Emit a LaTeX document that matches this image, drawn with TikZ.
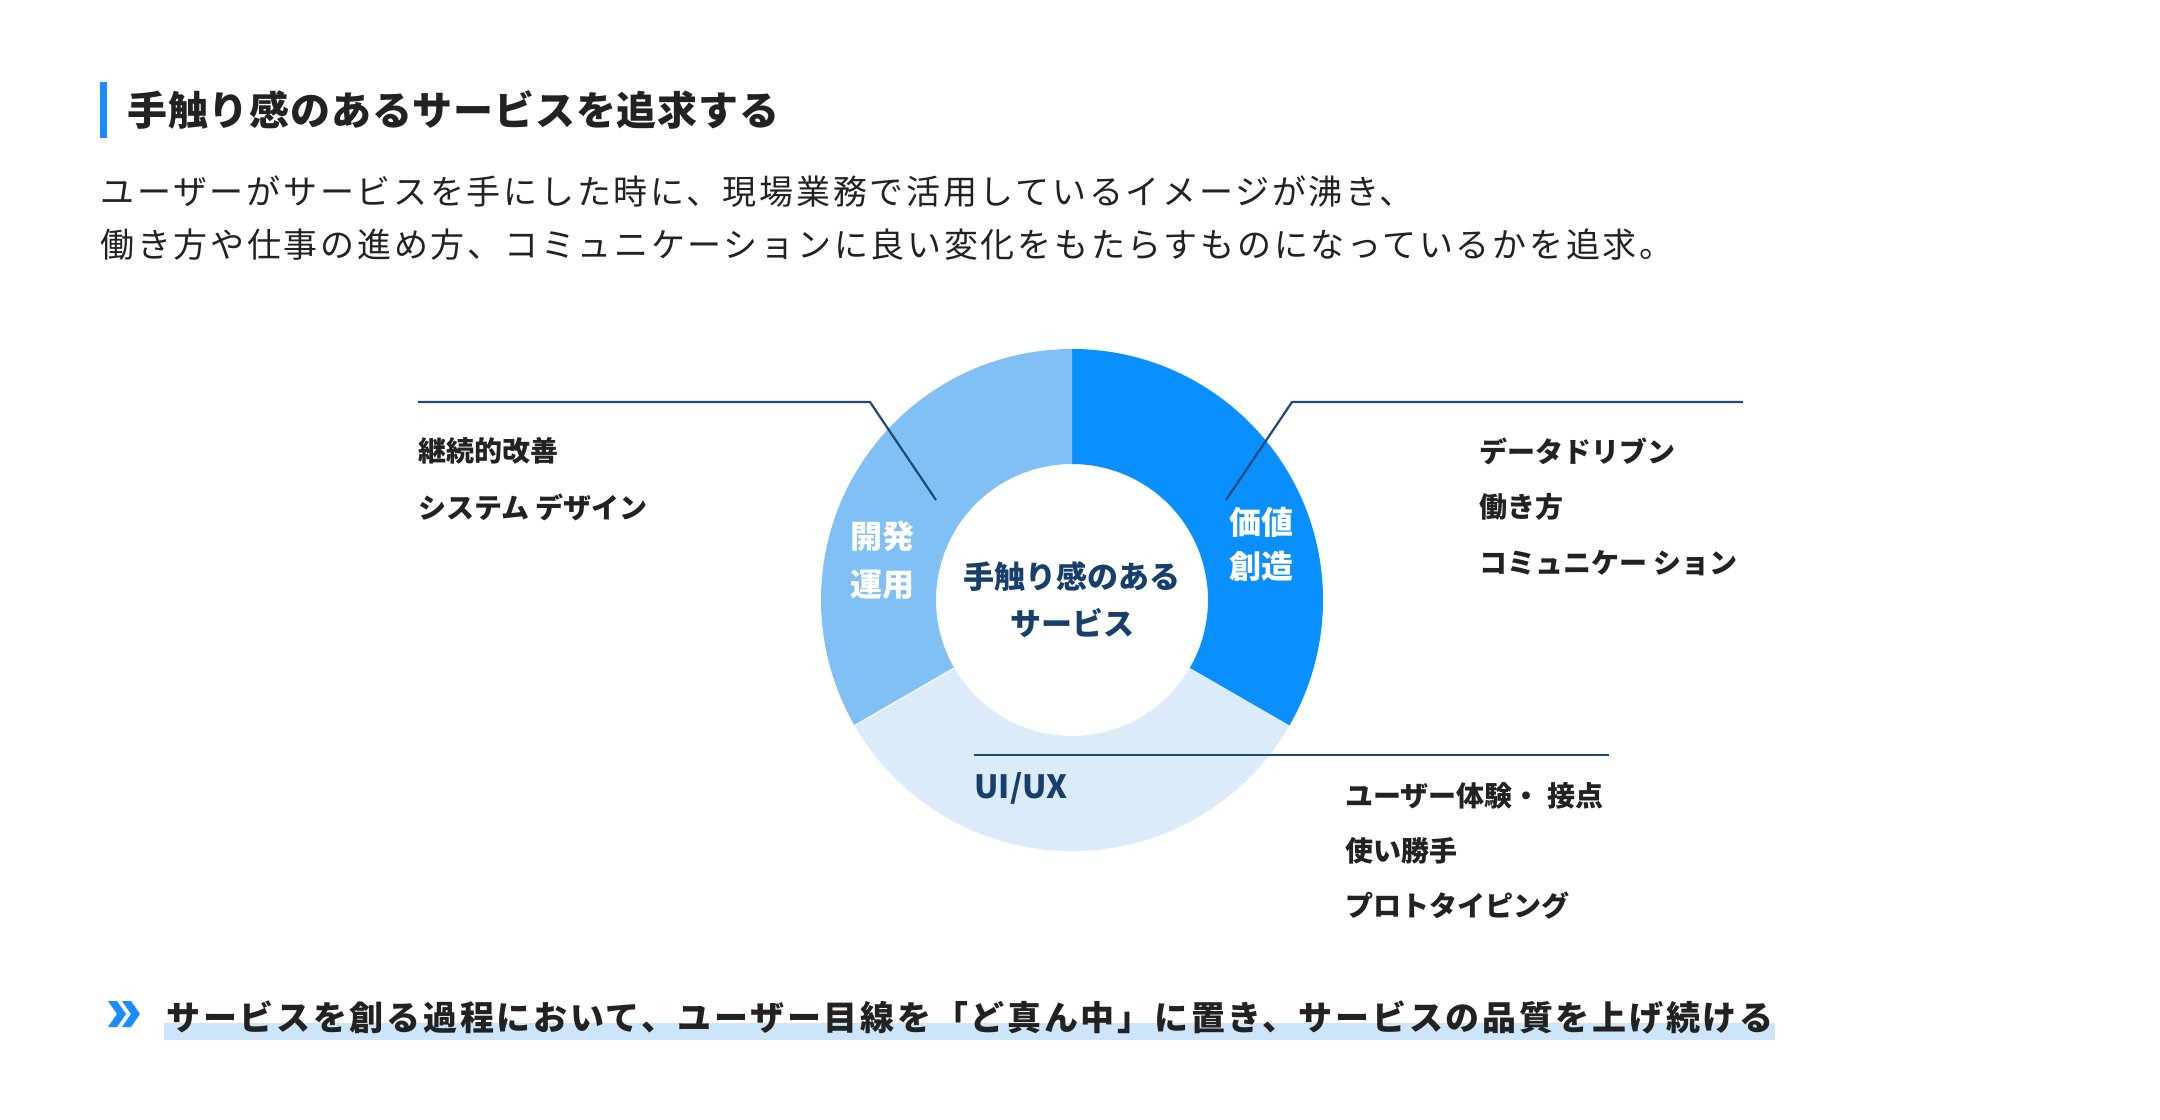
\documentclass[tikz,border=0pt]{standalone}
\usepackage{fontspec}
\setmainfont{Noto Sans CJK JP}
\newfontfamily\headfont{Noto Sans CJK JP}[LetterSpace=2]
\newfontfamily\bodyfont{Noto Sans CJK JP}[LetterSpace=8]
\definecolor{segdark}{HTML}{0A8FFF}
\definecolor{segmid}{HTML}{80C0F5}
\definecolor{seglight}{HTML}{DBEBFA}
\definecolor{navy}{HTML}{163F6C}
\definecolor{leadnavy}{HTML}{1D4A77}
\definecolor{inkblack}{HTML}{222222}
\definecolor{accent}{HTML}{1A8CFF}
\definecolor{hilite}{HTML}{CCE5FB}
\begin{document}
\begin{tikzpicture}[x=0.5pt, y=-0.5pt,
    kw/.style={anchor=west, inner sep=0pt, text=inkblack,
        font=\fontsize{14pt}{16pt}\selectfont\bfseries},
    seglabel/.style={align=center, inner sep=0pt, text=white,
        font=\fontsize{16pt}{22pt}\selectfont\bfseries},
    leader/.style={draw=leadnavy, line width=1.1pt}]
    \useasboundingbox[fill=white] (0,0) rectangle (2160,1120);
    % Heading and lead text
    \fill[accent] (100,82) rectangle (107,138);
    \node[anchor=west, inner sep=0pt, text=inkblack,
        font=\headfont\fontsize{20pt}{22pt}\selectfont\bfseries] (title) at (127,110)
        {手触り感のあるサービスを追求する};
    \node[anchor=west, inner sep=0pt, text=inkblack,
        font=\bodyfont\fontsize{17pt}{20pt}\selectfont] (lead1) at (100,192)
        {ユーザーがサービスを手にした時に、現場業務で活用しているイメージが沸き、};
    \node[anchor=west, inner sep=0pt, text=inkblack,
        font=\bodyfont\fontsize{17pt}{20pt}\selectfont] (lead2) at (100,245)
        {働き方や仕事の進め方、コミュニケーションに良い変化をもたらすものになっているかを追求。};
    % Donut
    \coordinate (c) at (1072,600);
    \foreach \col/\a/\b in {segdark/90/-30, segmid/90/210, seglight/210/330}{
        \fill[\col] ([shift={(c)}]\a:125.5pt) arc[start angle=\a, end angle=\b, radius=125.5pt]
            -- ([shift={(c)}]\b:68pt) arc[start angle=\b, end angle=\a, radius=68pt] -- cycle;
    }
    \draw[white, line width=0.6pt] ([shift={(c)}]210:68pt) -- ([shift={(c)}]210:125.5pt);
    \node[align=center, inner sep=0pt, text=navy,
        font=\fontsize{15.5pt}{23.5pt}\selectfont\bfseries] (core) at (c)
        {手触り感のある\\サービス};
    \node[seglabel] (value) at (1261,544) {価値\\創造};
    \node[seglabel, font=\fontsize{16pt}{24pt}\selectfont\bfseries] (devops) at (882,560) {開発\\運用};
    \node[anchor=west, inner sep=0pt, text=navy,
        font=\fontsize{16pt}{18pt}\selectfont\bfseries] (uiux) at (974,788) {UI/UX};
    % Leader lines
    \coordinate (lstart) at (418,402);
    \coordinate (lbend) at (870,402);
    \coordinate (lend) at (936,500);
    \coordinate (rstart) at (1743,402);
    \coordinate (rbend) at (1292,402);
    \coordinate (rend) at (1226,500);
    \coordinate (bstart) at (974,755);
    \coordinate (bend) at (1609,755);
    \draw[leader] (lstart) -- (lbend) -- (lend);
    \draw[leader] (rstart) -- (rbend) -- (rend);
    \draw[leader] (bstart) -- (bend);
    % Keywords
    \foreach \t/\y [count=\i] in {継続的改善/451, システム デザイン/507}{
        \node[kw] (dev\i) at (418,\y) {\t};
    }
    \foreach \t/\y [count=\i] in {データドリブン/451, 働き方/507, コミュニケー ション/563}{
        \node[kw] (val\i) at (1479,\y) {\t};
    }
    \foreach \t/\y [count=\i] in {ユーザー体験・ 接点/796, 使い勝手/851, プロトタイピング/906}{
        \node[kw] (ux\i) at (1345,\y) {\t};
    }
    % Closing statement
    \fill[hilite] (164,1023) rectangle (1775,1040);
    \foreach \dx in {0,14}{
        \fill[accent, xshift=\dx*0.5pt] (108,1001) -- (117,1001) -- (126,1014) -- (117,1027)
            -- (108,1027) -- (117,1014) -- cycle;
    }
    \node[anchor=west, inner sep=0pt, text=inkblack,
        font=\bodyfont\fontsize{17pt}{20pt}\selectfont\bfseries] (statement) at (166,1017)
        {サービスを創る過程において、ユーザー目線を「ど真ん中」に置き、サービスの品質を上げ続ける};
\end{tikzpicture}
\end{document}
